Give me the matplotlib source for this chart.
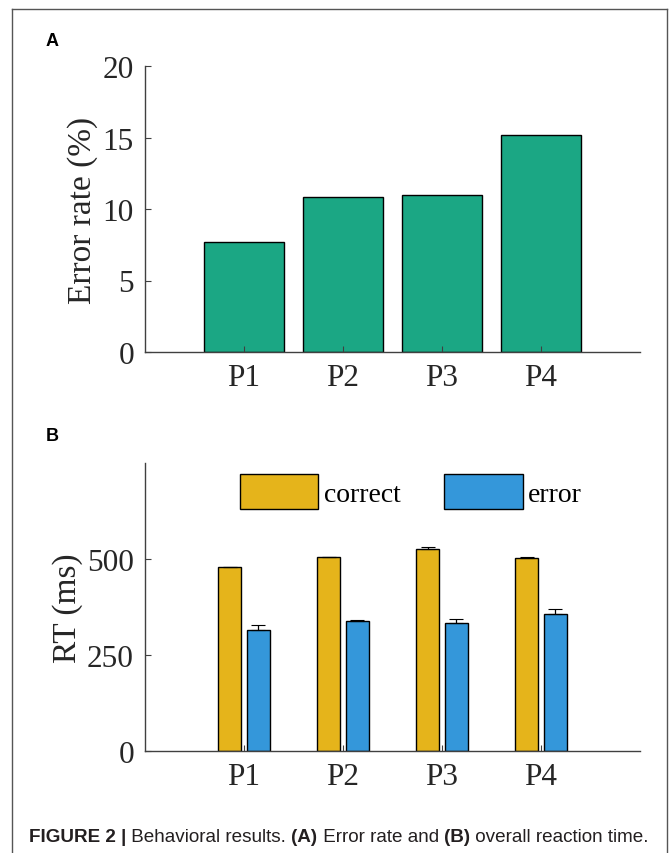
import matplotlib
matplotlib.use("Agg")
import matplotlib.pyplot as plt
import numpy as np
from matplotlib.lines import Line2D

# ---- data ----
conditions = ["P1", "P2", "P3", "P4"]
error_rate = [7.7, 10.85, 11.0, 15.2]
rt_correct = [478, 504, 527, 502]
rt_correct_err = [2, 1.5, 3, 2.5]
rt_error = [315, 338, 334, 358]
rt_error_err = [13, 3, 10, 13]
yticks_a = [0, 5, 10, 15, 20]
yticks_b = [0, 250, 500]

green = "#1BA784"
yellow = "#E5B41B"
blue = "#3497DA"
spine_c = "#404040"
text_c = "#262626"
serif = ["Liberation Serif", "DejaVu Serif"]

W, H = 669, 854
fig = plt.figure(figsize=(W / 100, H / 100), dpi=100)

def fx(px):
    return px / W

def fy(py):
    return 1 - py / H

# outer frame (top, left, right)
for (x0, y0, x1, y1) in [(12, 10, 667, 10), (12, 10, 12, 854), (667, 10, 667, 854)]:
    fig.add_artist(Line2D([fx(x0), fx(x1)], [fy(y0), fy(y1)], color="#555555", lw=1.0))

def style_axes(ax):
    for s in ["top", "right"]:
        ax.spines[s].set_visible(False)
    for s in ["left", "bottom"]:
        ax.spines[s].set_color(spine_c)
        ax.spines[s].set_linewidth(1.0)
    ax.tick_params(direction="in", length=4, width=0.8, color=spine_c,
                   labelsize=22.5, labelcolor=text_c, pad=8)
    for lab in ax.get_xticklabels() + ax.get_yticklabels():
        lab.set_family(serif)

x = np.arange(1, len(conditions) + 1)

# ---- panel A ----
axA = fig.add_axes([fx(145), fy(353), fx(640) - fx(145), fy(67) - fy(353)])
axA.bar(x, error_rate, width=0.8, color=green, edgecolor="black", linewidth=1.0)
axA.set_xlim(0, 5)
axA.set_ylim(0, 20)
axA.set_yticks(yticks_a)
axA.set_xticks(x)
axA.set_xticklabels(conditions)
axA.set_ylabel("Error rate (%)", fontsize=24, family=serif, color=text_c, labelpad=3)
style_axes(axA)

# ---- panel B ----
axB = fig.add_axes([fx(145), fy(752), fx(640) - fx(145), fy(464) - fy(752)])
off = 0.145
bw = 0.23
axB.bar(x - off, rt_correct, width=bw, color=yellow, edgecolor="black", linewidth=1.0,
        label="correct")
axB.bar(x + off, rt_error, width=bw, color=blue, edgecolor="black", linewidth=1.0,
        label="error")
for xs, ys, es in [(x - off, rt_correct, rt_correct_err), (x + off, rt_error, rt_error_err)]:
    _, caps, bars = axB.errorbar(xs, ys, yerr=[np.zeros(len(es)), es], fmt="none",
                                 ecolor="black", elinewidth=0.9, capsize=5, capthick=0.8)
    for c in caps:
        c.set_color("#9a9a9a")
axB.set_xlim(0, 5)
axB.set_ylim(0, 750)
axB.set_yticks(yticks_b)
axB.set_xticks(x)
axB.set_xticklabels(conditions)
axB.set_ylabel("RT (ms)", fontsize=24, family=serif, color=text_c, labelpad=3)
style_axes(axB)
leg = axB.legend(loc="upper center", bbox_to_anchor=(0.537, 1.0), ncol=2, frameon=False,
                 prop=dict(family=serif, size=20), handlelength=2.84, handleheight=1.55,
                 handletextpad=0.2, columnspacing=1.55, borderaxespad=0.0)
for t in leg.get_texts():
    t.set_color("black")

# panel letters
fig.text(fx(46), fy(42), "A", fontsize=13, fontweight="bold", family="Liberation Sans",
         va="center", ha="left")
fig.text(fx(46), fy(437), "B", fontsize=13, fontweight="bold", family="Liberation Sans",
         va="center", ha="left")

# caption, built from pieces placed after one another
cap_c = "#231f20"
t1 = fig.text(fx(29), fy(842), "FIGURE 2 |", fontsize=13.6, fontweight="bold",
              family="Liberation Sans", va="baseline", ha="left", color=cap_c)
parts = [(" Behavioral results. ", "normal"), ("(A)", "bold"), (" Error rate and ", "normal"),
         ("(B)", "bold"), (" overall reaction time.", "normal")]
prev = t1
for txt, wt in parts:
    prev = axA.annotate(txt, xy=(1, 0), xycoords=prev, xytext=(0, 0),
                        textcoords="offset points", va="bottom", ha="left",
                        fontsize=13.6, fontweight=wt, family="Liberation Sans",
                        color=cap_c, annotation_clip=False)

fig.savefig("out.png", dpi=100)
